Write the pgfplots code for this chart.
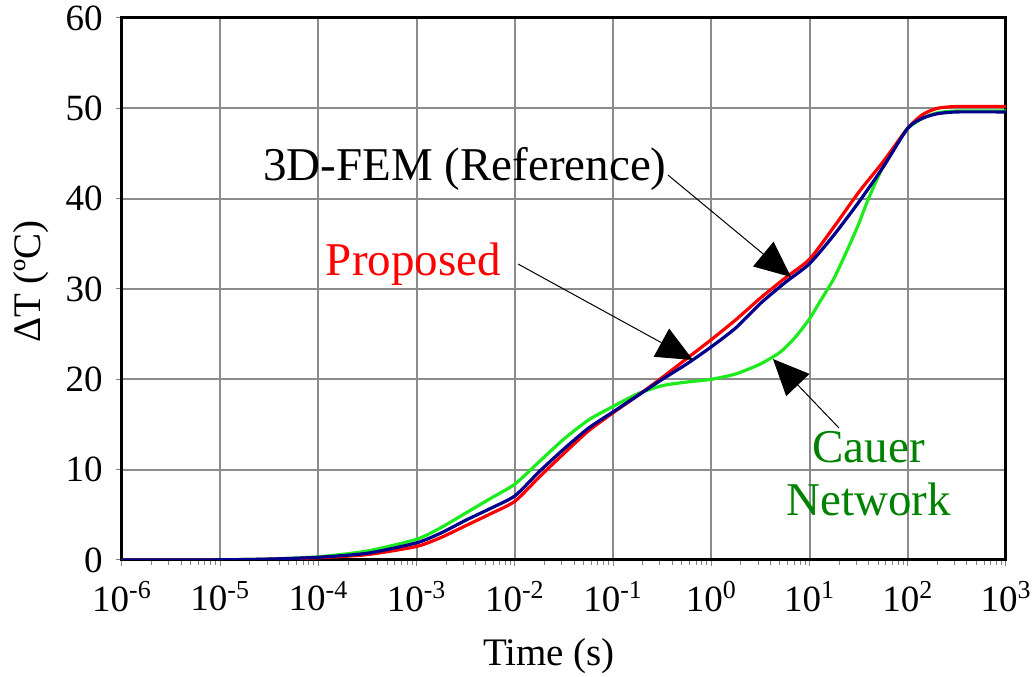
\documentclass[border=0pt]{standalone}
\usepackage{fontspec}
\setmainfont{Liberation Serif}
\usepackage{pgfplots}
\usepackage{pgfplotstable}
\pgfplotsset{compat=1.18}
\usetikzlibrary{arrows.meta}
\definecolor{cgreen}{RGB}{30,235,30}
\definecolor{cnavy}{RGB}{0,0,140}
\definecolor{tgreen}{RGB}{0,130,0}
\pgfplotstableread{
lt y
-6 0
-5.5 0
-5 0.02
-4.5 0.1
-4 0.35
-3.5 1.0
-3 2.3
-2.75 3.6
-2.5 5.2
-2.25 6.8
-2 8.4
-1.75 10.9
-1.5 13.4
-1.25 15.5
-1 17.0
-0.75 18.4
-0.5 19.3
-0.25 19.7
0 20.0
0.25 20.6
0.5 21.7
0.7 23.0
0.85 24.6
1.0 26.7
1.1 28.5
1.25 31.2
1.4 34.7
1.5 37.2
1.6 40.0
1.75 43.6
1.9 46.3
2.0 47.8
2.15 48.9
2.3 49.5
2.5 49.7
3 49.7
}\cauer
\pgfplotstableread{
lt y
-6 0
-5.5 0
-5 0.02
-4.5 0.08
-4 0.25
-3.5 0.6
-3 1.5
-2.75 2.5
-2.5 3.8
-2.25 5.1
-2 6.5
-1.75 9.2
-1.5 11.8
-1.25 14.3
-1 16.3
-0.75 18.2
-0.5 20.2
-0.25 22.3
0 24.4
0.25 26.6
0.5 29.0
0.75 31.2
1.0 33.3
1.25 36.9
1.5 40.7
1.75 44.1
2.0 47.8
2.15 49.3
2.3 50.0
2.5 50.2
3 50.2
}\proposed
\pgfplotstableread{
lt y
-6 0
-5.5 0
-5 0.02
-4.5 0.1
-4 0.3
-3.5 0.75
-3 1.9
-2.75 3.0
-2.5 4.4
-2.25 5.7
-2 7.1
-1.75 9.8
-1.5 12.3
-1.25 14.6
-1 16.4
-0.75 18.2
-0.5 20.0
-0.25 21.7
0 23.6
0.25 25.7
0.5 28.4
0.75 30.7
1.0 32.8
1.25 36.0
1.5 39.6
1.75 43.5
2.0 47.8
2.15 48.9
2.3 49.4
2.5 49.6
3 49.6
}\fem
\begin{document}
\begin{tikzpicture}
\begin{axis}[
  scale only axis, width=442pt, height=271pt,
  xmode=log, xmin=1e-6, xmax=1e3, ymin=0, ymax=60,
  xtick={1e-6,1e-5,1e-4,1e-3,1e-2,1e-1,1e0,1e1,1e2,1e3},
  xticklabels={10\textsuperscript{-6},10\textsuperscript{-5},10\textsuperscript{-4},10\textsuperscript{-3},10\textsuperscript{-2},10\textsuperscript{-1},10\textsuperscript{0},10\textsuperscript{1},10\textsuperscript{2},10\textsuperscript{3}},
  minor xtick={2e-6,3e-6,4e-6,5e-6,6e-6,7e-6,8e-6,9e-6,
    2e-5,3e-5,4e-5,5e-5,6e-5,7e-5,8e-5,9e-5,
    2e-4,3e-4,4e-4,5e-4,6e-4,7e-4,8e-4,9e-4,
    2e-3,3e-3,4e-3,5e-3,6e-3,7e-3,8e-3,9e-3,
    2e-2,3e-2,4e-2,5e-2,6e-2,7e-2,8e-2,9e-2,
    2e-1,3e-1,4e-1,5e-1,6e-1,7e-1,8e-1,9e-1,
    2,3,4,5,6,7,8,9,20,30,40,50,60,70,80,90,200,300,400,500,600,700,800,900},
  ytick={0,10,20,30,40,50,60},
  yticklabels={0,10,20,30,40,50,60},
  tick pos=left, tick align=outside,
  major tick length=3pt, minor tick length=2.5pt,
  tick style={gray, line width=0.5pt},
  xmajorgrids, ymajorgrids, xminorgrids=false,
  major grid style={gray!90, line width=1pt},
  axis line style={black, line width=1.5pt},
  xticklabel style={font=\fontsize{18.5}{22}\selectfont, inner sep=1pt, yshift=-6.5pt},
  yticklabel style={font=\fontsize{18.5}{22}\selectfont, inner sep=1pt, xshift=-5.5pt},
  xlabel={Time (s)}, ylabel={ΔT (ºC)},
  label style={font=\fontsize{19.5}{23}\selectfont},
  xlabel style={at={(axis description cs:0.483,-0.194)}, anchor=base},
  ylabel style={at={(axis description cs:-0.103,0.514)}, anchor=center},
]
\addplot[cgreen, line width=1.6pt, smooth, tension=0.4] table[x expr={10^(\thisrow{lt})}, y=y] {\cauer};
\addplot[red, line width=1.6pt, smooth, tension=0.4] table[x expr={10^(\thisrow{lt})}, y=y] {\proposed};
\addplot[cnavy, line width=1.6pt, smooth, tension=0.4] table[x expr={10^(\thisrow{lt})}, y=y] {\fem};
\draw[black, line width=0.5pt, -{Triangle[length=18pt,width=16pt]}] (rel axis cs:0.6176,0.7103) -- (rel axis cs:0.7568,0.5221);
\draw[black, line width=0.5pt, -{Triangle[length=18pt,width=16pt]}] (rel axis cs:0.4480,0.5461) -- (rel axis cs:0.6459,0.3690);
\draw[black, line width=0.5pt, -{Triangle[length=18pt,width=16pt]}] (rel axis cs:0.8111,0.2435) -- (rel axis cs:0.7364,0.3708);
\node[anchor=base, font=\fontsize{23.5}{28}\selectfont, inner sep=0pt] at (rel axis cs:0.388,0.701) {3D-FEM (Reference)};
\node[anchor=base, font=\fontsize{23.5}{28}\selectfont, text=red, inner sep=0pt] at (rel axis cs:0.3297,0.5258) {Proposed};
\node[anchor=base, font=\fontsize{23.5}{28}\selectfont, text=tgreen, inner sep=0pt] at (rel axis cs:0.8445,0.179) {Cauer};
\node[anchor=base, font=\fontsize{23.5}{28}\selectfont, text=tgreen, inner sep=0pt] at (rel axis cs:0.8445,0.083) {Network};
\end{axis}
\pgfresetboundingbox
\path ([shift={(-61pt,-58.5pt)}]current axis.south west) rectangle ([shift={(13.5pt,9pt)}]current axis.north east);
\end{tikzpicture}
\end{document}
